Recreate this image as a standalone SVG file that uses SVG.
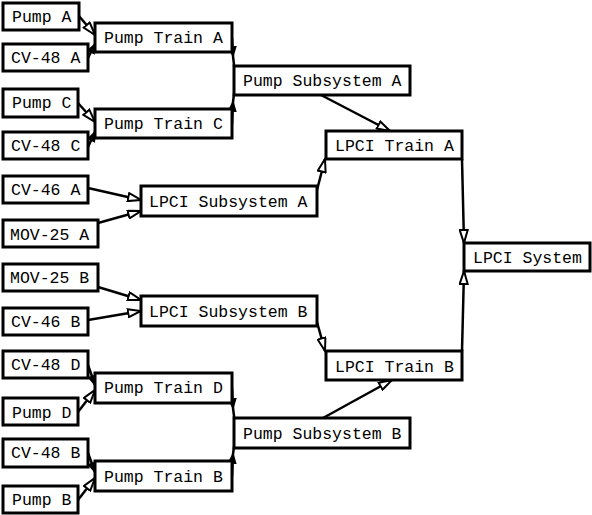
<svg xmlns="http://www.w3.org/2000/svg" width="592" height="515" viewBox="0 0 592 515">
<style>
.n rect{fill:#fff;stroke:#000;stroke-width:3}
.n text{font-family:"Liberation Mono","Courier New",monospace;font-size:16.5px;fill:#000}
#edges path,#edges line{fill:none;stroke:#000;stroke-width:2.5}
</style>
<defs>
<marker id="open" markerUnits="userSpaceOnUse" markerWidth="16" markerHeight="10" refX="13" refY="4" orient="auto" viewBox="-1 -1 16 10">
<path d="M0,0 L13,4 L0,8 z" fill="#fff" stroke="#000" stroke-width="2"/>
</marker>
<marker id="solid" markerUnits="userSpaceOnUse" markerWidth="12" markerHeight="10" refX="9" refY="3.5" orient="auto" viewBox="-1 -1 12 10">
<path d="M0,0 L9,3.5 L0,7 z" fill="#000" stroke="#000" stroke-width="1.5"/>
</marker>
</defs>
<rect width="592" height="515" fill="#fff"/>
<g id="edges">
<line x1="79" y1="16" x2="95" y2="35" marker-end="url(#open)"/>
<line x1="88" y1="58" x2="95" y2="44" marker-end="url(#solid)"/>
<line x1="78" y1="103" x2="95" y2="122" marker-end="url(#open)"/>
<line x1="88" y1="147" x2="95" y2="132" marker-end="url(#solid)"/>
<path d="M232,38 L233,56 L235,74" marker-mid="url(#solid)"/>
<path d="M232,124 L233,102 L235,86" marker-mid="url(#solid)"/>
<line x1="321" y1="95" x2="390" y2="131" marker-end="url(#open)"/>
<line x1="88" y1="188" x2="141" y2="200" marker-end="url(#open)"/>
<line x1="98" y1="223" x2="141" y2="211" marker-end="url(#open)"/>
<line x1="317" y1="190" x2="325" y2="159" marker-end="url(#open)"/>
<line x1="462" y1="159" x2="464" y2="243" marker-end="url(#open)"/>
<line x1="462" y1="351" x2="464" y2="271" marker-end="url(#open)"/>
<line x1="98" y1="287" x2="141" y2="300" marker-end="url(#open)"/>
<line x1="88" y1="320" x2="141" y2="311" marker-end="url(#open)"/>
<line x1="317" y1="322" x2="325" y2="351" marker-end="url(#open)"/>
<line x1="323" y1="418" x2="392" y2="380" marker-end="url(#open)"/>
<line x1="88" y1="365" x2="95" y2="385" marker-end="url(#solid)"/>
<line x1="78" y1="412" x2="95" y2="390" marker-end="url(#open)"/>
<line x1="88" y1="453" x2="95" y2="472" marker-end="url(#solid)"/>
<line x1="78" y1="500" x2="95" y2="478" marker-end="url(#open)"/>
<path d="M232,388 L233,408 L235,424" marker-mid="url(#solid)"/>
<path d="M232,476 L233,454 L235,440" marker-mid="url(#solid)"/>
</g>
<g id="pumpA" class="n"><rect x="3" y="3" width="76" height="27"/><text x="12" y="22">Pump A</text></g>
<g id="cv48A" class="n"><rect x="3" y="44" width="85" height="27"/><text x="11" y="63">CV-48 A</text></g>
<g id="pumpTrainA" class="n"><rect x="95" y="23" width="137" height="29"/><text x="104" y="43">Pump Train A</text></g>
<g id="pumpC" class="n"><rect x="3" y="89" width="75" height="28"/><text x="12" y="108">Pump C</text></g>
<g id="cv48C" class="n"><rect x="3" y="132" width="85" height="27"/><text x="11" y="151">CV-48 C</text></g>
<g id="pumpTrainC" class="n"><rect x="95" y="109" width="137" height="29"/><text x="104" y="129">Pump Train C</text></g>
<g id="pumpSubA" class="n"><rect x="234" y="66" width="176" height="29"/><text x="243" y="86">Pump Subsystem A</text></g>
<g id="lpciTrainA" class="n"><rect x="326" y="131" width="136" height="28"/><text x="335" y="151">LPCI Train A</text></g>
<g id="cv46A" class="n"><rect x="3" y="176" width="85" height="27"/><text x="11" y="195">CV-46 A</text></g>
<g id="mov25A" class="n"><rect x="3" y="220" width="95" height="27"/><text x="10" y="240">MOV-25 A</text></g>
<g id="lpciSubA" class="n"><rect x="141" y="186" width="176" height="30"/><text x="149" y="207">LPCI Subsystem A</text></g>
<g id="lpciSystem" class="n"><rect x="464" y="243" width="126" height="28"/><text x="473" y="263">LPCI System</text></g>
<g id="mov25B" class="n"><rect x="3" y="264" width="95" height="27"/><text x="10" y="283">MOV-25 B</text></g>
<g id="cv46B" class="n"><rect x="3" y="308" width="85" height="27"/><text x="11" y="327">CV-46 B</text></g>
<g id="lpciSubB" class="n"><rect x="141" y="296" width="176" height="30"/><text x="149" y="317">LPCI Subsystem B</text></g>
<g id="lpciTrainB" class="n"><rect x="326" y="351" width="136" height="29"/><text x="335" y="372">LPCI Train B</text></g>
<g id="cv48D" class="n"><rect x="3" y="351" width="85" height="27"/><text x="11" y="370">CV-48 D</text></g>
<g id="pumpD" class="n"><rect x="3" y="398" width="75" height="27"/><text x="12" y="418">Pump D</text></g>
<g id="pumpTrainD" class="n"><rect x="95" y="373" width="137" height="30"/><text x="104" y="393">Pump Train D</text></g>
<g id="cv48B" class="n"><rect x="3" y="439" width="85" height="28"/><text x="11" y="458">CV-48 B</text></g>
<g id="pumpB" class="n"><rect x="3" y="486" width="75" height="27"/><text x="12" y="505">Pump B</text></g>
<g id="pumpTrainB" class="n"><rect x="95" y="461" width="137" height="30"/><text x="104" y="482">Pump Train B</text></g>
<g id="pumpSubB" class="n"><rect x="234" y="418" width="176" height="30"/><text x="243" y="439">Pump Subsystem B</text></g>
</svg>
